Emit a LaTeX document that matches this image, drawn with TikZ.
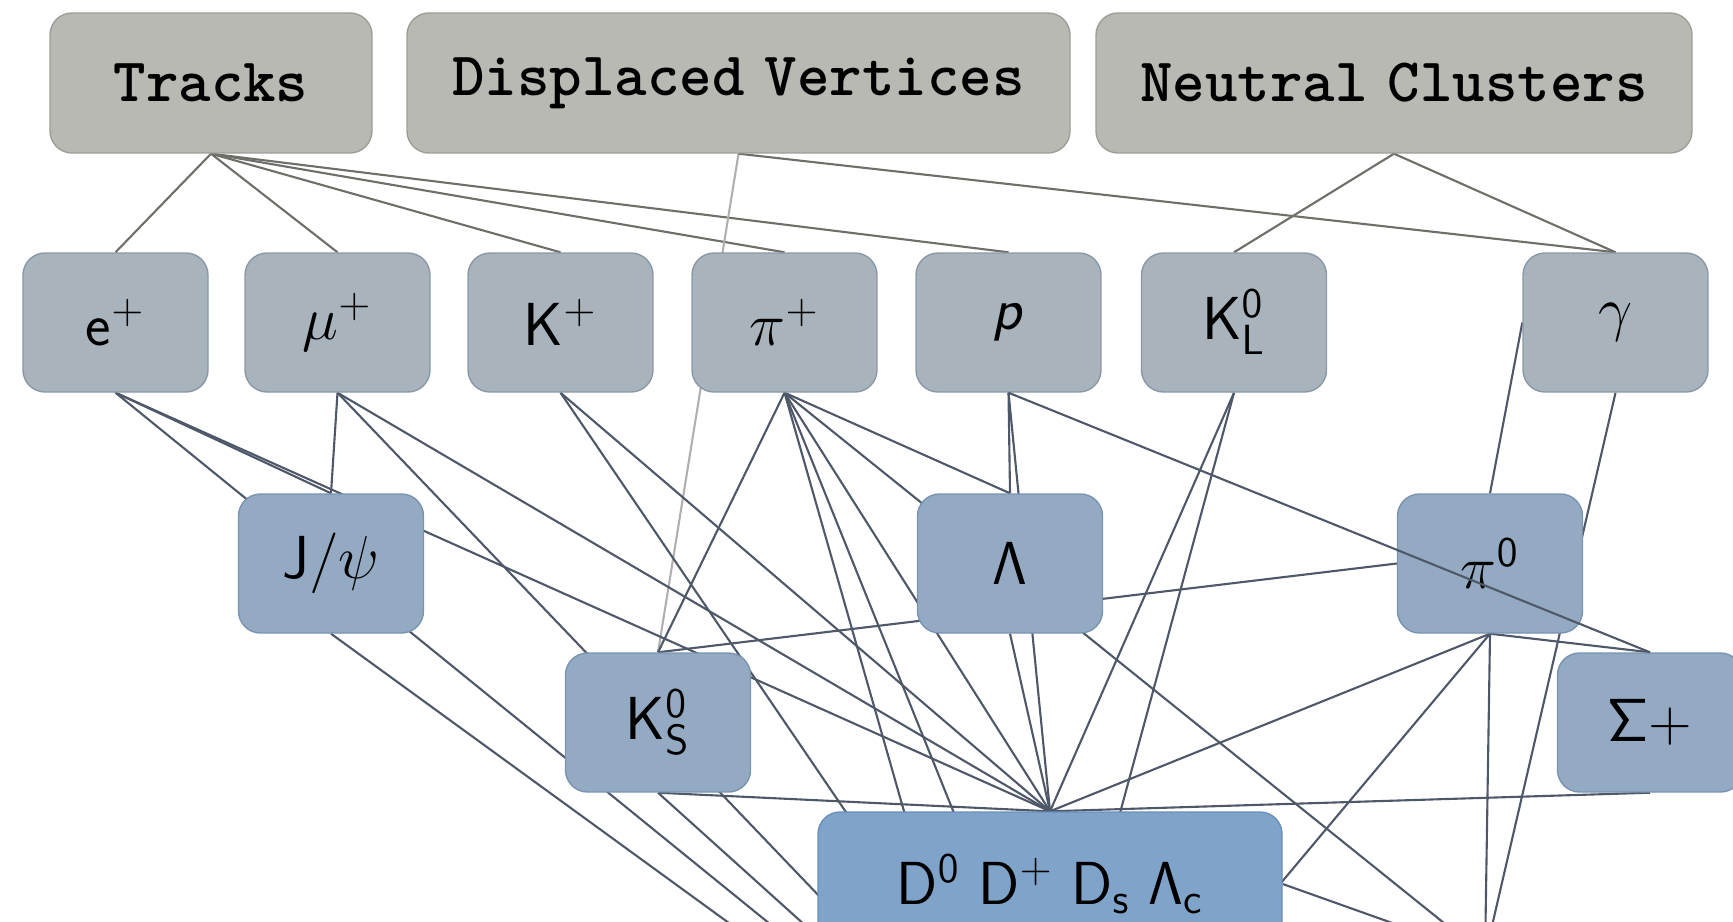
\documentclass[tikz,border=0pt]{standalone}
\usetikzlibrary{backgrounds}
\definecolor{grissource}{HTML}{B8B9B2}
\definecolor{bordsource}{HTML}{9D9E98}
\definecolor{grispart}{HTML}{A8B3BC}
\definecolor{bordpart}{HTML}{8A99A8}
\definecolor{bleucomp}{HTML}{93AAC2}
\definecolor{bordcomp}{HTML}{7A94B0}
\definecolor{bleucharme}{HTML}{7FA3C9}
\definecolor{bordcharme}{HTML}{6A8FB8}
\definecolor{trait}{HTML}{4E5868}
\definecolor{traitgris}{HTML}{6E6F69}
\tikzset{
	source/.style={draw=bordsource, fill=grissource, line width=0.4pt, rounded corners=0.22cm,
		minimum height=1.40cm, font=\fontsize{17.6}{21}\fontseries{b}\ttfamily},
	particule/.style={draw=bordpart, fill=grispart, line width=0.4pt, rounded corners=0.22cm,
		minimum width=1.85cm, minimum height=1.39cm, font=\fontsize{17}{20}\selectfont},
	composite/.style={particule, draw=bordcomp, fill=bleucomp},
	charme/.style={particule, draw=bordcharme, fill=bleucharme, minimum width=4.64cm, minimum height=1.44cm},
	lien/.style={draw=trait, line width=0.6pt},
	liengris/.style={draw=traitgris, line width=0.6pt},
	lienclair/.style={draw=traitgris!55, line width=0.6pt}
}
\begin{document}
\begin{tikzpicture}
	\useasboundingbox (0,0) rectangle (17.33,-9.21);
	\clip (0,0) rectangle (17.33,-9.21);
	% les sources
	\node[source, minimum width=3.22cm] (tracks) at (2.11,-0.83) {Tracks};
	\node[source, minimum width=6.63cm] (dv) at (7.385,-0.83) {Displaced\hspace{-0.2em} Vertices};
	\node[source, minimum width=5.96cm] (nc) at (13.94,-0.83) {Neutral\hspace{-0.2em} Clusters};
	% les particules finales
	\node[particule] (ep) at (1.155,-3.225) {$\mathsf{e}^+$};
	\node[particule] (mup) at (3.375,-3.225) {$\mu^+$};
	\node[particule] (kp) at (5.605,-3.225) {$\mathsf{K}^+$};
	\node[particule] (pip) at (7.845,-3.225) {$\pi^+$};
	\node[particule] (prot) at (10.085,-3.225) {\textsf{\textit{p}}};
	\node[particule] (kl) at (12.34,-3.225) {$\mathsf{K^0_L}$};
	\node[particule] (gam) at (16.155,-3.225) {$\gamma$};
	% les composites
	\node[composite] (jpsi) at (3.31,-5.635) {$\mathsf{J}/\psi$};
	\node[composite] (lam) at (10.10,-5.635) {$\mathsf{\Lambda}$};
	\node[composite] (piz) at (14.90,-5.635) {$\pi^{\mathsf{0}}$};
	\node[composite] (ks) at (6.58,-7.225) {$\mathsf{K^0_S}$};
	\node[composite] (sig) at (16.50,-7.225) {$\mathsf{\Sigma}$\textsf{+}};
	\node[charme] (dmes) at (10.50,-8.84) {$\mathsf{D^0}$ $\mathsf{D^+}$ $\mathsf{D_s}$ $\mathsf{\Lambda_c}$};
	% sous le cadre
	\coordinate (dstar) at (14.85,-9.56);
	\coordinate (bplus) at (11.10,-12.00);
	\coordinate (bzero) at (10.15,-12.00);
	\begin{scope}[on background layer]
	\clip (0,0) rectangle (17.33,-9.21);
	% les traits du haut
	\draw[liengris] (tracks.south) -- (ep.north);
	\draw[liengris] (tracks.south) -- (mup.north);
	\draw[liengris] (tracks.south) -- (kp.north);
	\draw[liengris] (tracks.south) -- (pip.north);
	\draw[liengris] (tracks.south) -- (prot.north);
	\draw[lienclair] (dv.south) -- (ks.north);
	\draw[liengris] (dv.south) -- (gam.north);
	\draw[liengris] (nc.south) -- (kl.north);
	\draw[liengris] (nc.south) -- (gam.north);
	% les traits du bas
	\draw[lien] (ep.south) -- (jpsi.north);
	\draw[lien] (ep.south) -- (dmes.north);
	\draw[lien] (ep.south) -- (bplus);
	\draw[lien] (mup.south) -- (jpsi.north);
	\draw[lien] (mup.south) -- (dmes.north);
	\draw[lien] (mup.south) -- (bplus);
	\draw[lien] (kp.south) -- (dmes.north);
	\draw[lien] (kp.south) -- (bplus);
	\draw[lien] (pip.south) -- (ks.north);
	\draw[lien] (pip.south) -- (lam.north);
	\draw[lien] (pip.south) -- (dmes.north);
	\draw[lien] (pip.south) -- (dstar);
	\draw[lien] (pip.south) -- (bplus);
	\draw[lien] (pip.south) -- (bzero);
	\draw[lien] (prot.south) -- (lam.north);
	\draw[lien] (prot.south) -- (dmes.north);
	\draw[lien] (kl.south) -- (dmes.north);
	\draw[lien] (kl.south) -- (bzero);
	\draw[lien] (gam.west) -- (piz.north);
	\draw[lien] (gam.south) -- (dstar);
	\draw[lien] (jpsi.south) -- (bplus);
	\draw[lien] (lam.south) -- (dmes.north);
	\draw[lien] (ks.north) -- (piz.west);
	\draw[lien] (ks.south) -- (dmes.north);
	\draw[lien] (ks.south) -- (bplus);
	\draw[lien] (piz.south) -- (dmes.north);
	\draw[lien] (piz.south) -- (sig.north);
	\draw[lien] (piz.south) -- (dstar);
	\draw[lien] (piz.south) -- (bzero);
	\draw[lien] (sig.south) -- (dmes.north);
	\draw[lien] (dmes.east) -- (dstar);
	\end{scope}
	\draw[lien] (prot.south) -- (sig.north);
\end{tikzpicture}
\end{document}
